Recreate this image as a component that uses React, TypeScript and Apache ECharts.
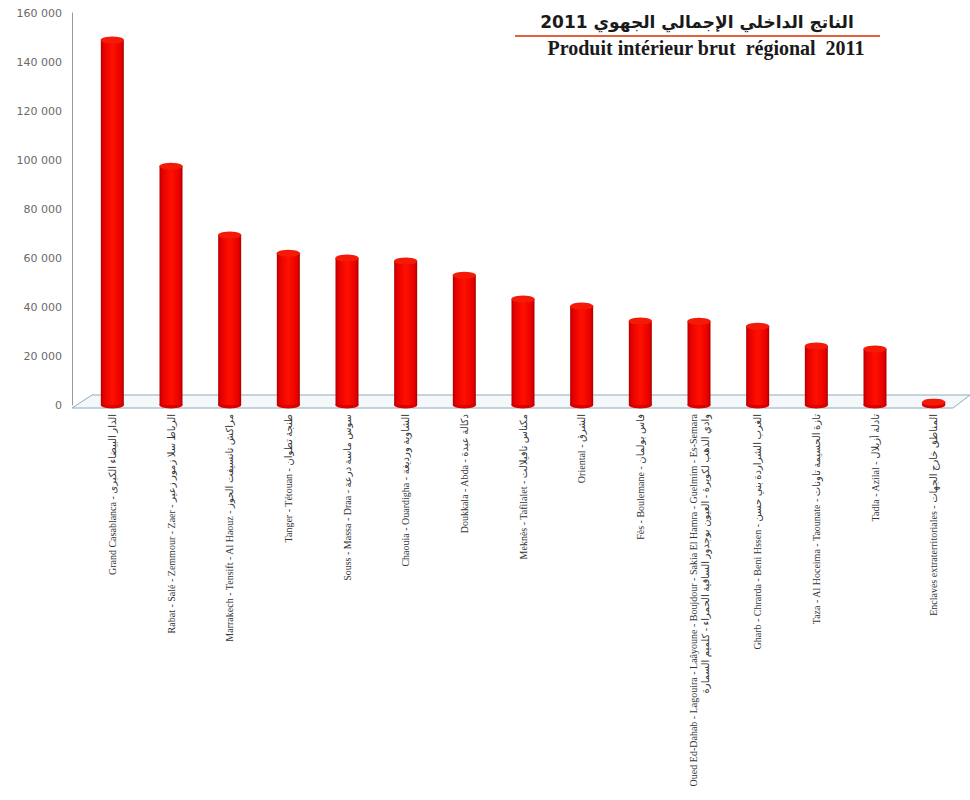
import React, { useEffect, useRef } from "react";
import * as echarts from "echarts";

// ---- Data ----
const categories: string[] = [
  "Grand Casablanca - الدار البيضاء الكبرى",
  "Rabat - Salé - Zemmour - Zaer - الرباط سلا زمور زعير",
  "Marrakech - Tensift - Al Haouz - مراكش تانسيفت الحوز",
  "Tanger - Tétouan - طنجة تطوان",
  "Souss - Massa - Draa - سوس ماسة درعة",
  "Chaouia - Ouardigha - الشاوية ورديغة",
  "Doukkala - Abda - دكالة عبدة",
  "Meknès - Tafilalet - مكناس تافيلالت",
  "Oriental - الشرق",
  "Fès - Boulemane - فاس بولمان",
  "Oued Ed-Dahab - Lagouira - Laâyoune - Boujdour - Sakia El Hamra - Guelmim - Es-Semara\nوادي الذهب لكويرة - العيون بوجدور الساقية الحمراء - كلميم السمارة",
  "Gharb - Chrarda - Beni Hssen - الغرب الشراردة بني حسن",
  "Taza - Al Hoceima - Taounate - تازة الحسيمة تاونات",
  "Tadla - Azilal - تادلة أزيلال",
  "Enclaves extraterritoriales - المناطق خارج الجهات",
];

const gdpValues: number[] = [
  149000, 97500, 69400, 62000, 60000, 58800, 53000, 43300, 40400, 34300,
  34200, 32200, 24100, 22900, 1200,
];

const yMin = 0;
const yMax = 160000;
const yInterval = 20000;

const titleArabic = "الناتج الداخلي الإجمالي الجهوي 2011";
const titleFrench = "Produit intérieur brut  régional  2011";

export default function App() {
  const ref = useRef<HTMLDivElement>(null);

  useEffect(() => {
    if (!ref.current) return;
    const chart = echarts.init(ref.current, undefined, { renderer: "svg" });

    const barW = 23;
    const capH = 7;

    const bodyGradient = new echarts.graphic.LinearGradient(0, 0, 1, 0, [
      { offset: 0, color: "#b00000" },
      { offset: 0.12, color: "#e40000" },
      { offset: 0.5, color: "#ff1000" },
      { offset: 0.88, color: "#e80000" },
      { offset: 1, color: "#a80000" },
    ]);

    const option: any = {
      animation: false,
      backgroundColor: "#ffffff",
      grid: { left: 83, right: 7, top: 13, bottom: 395, containLabel: false },
      xAxis: {
        type: "category",
        data: categories,
        axisLine: { show: false },
        axisTick: { show: false },
        axisLabel: {
          interval: 0,
          rotate: 90,
          margin: 9,
          fontSize: 10,
          lineHeight: 12,
          color: "#333",
          fontFamily: "Liberation Serif, DejaVu Sans, serif",
        },
      },
      yAxis: {
        type: "value",
        min: yMin,
        max: yMax,
        interval: yInterval,
        offset: 11,
        axisLine: { show: true, lineStyle: { color: "#9a9a9a", width: 1 } },
        axisTick: { show: false },
        splitLine: { show: false },
        axisLabel: {
          margin: 10,
          fontSize: 11,
          color: "#6a6a6a",
          fontFamily: "DejaVu Sans, sans-serif",
          formatter: (v: number) =>
            v === 0 ? "0" : `${Math.round(v / 1000)} 000`,
        },
      },
      series: [
        {
          type: "bar",
          data: gdpValues,
          barWidth: barW,
          z: 3,
          itemStyle: { color: bodyGradient },
        },
        {
          type: "pictorialBar",
          data: gdpValues,
          symbol: "circle",
          symbolSize: [barW, capH],
          symbolPosition: "start",
          symbolOffset: [0, "50%"],
          z: 2,
          itemStyle: { color: "#d80000" },
        },
        {
          type: "pictorialBar",
          data: gdpValues,
          symbol: "circle",
          symbolSize: [barW, capH],
          symbolPosition: "end",
          symbolOffset: [0, "-50%"],
          z: 4,
          itemStyle: { color: "#f51a08", borderColor: "#9a0000", borderWidth: 0.6 },
        },
      ],
      graphic: [
        {
          id: "titleAr",
          type: "text",
          x: 697,
          y: 22,
          style: {
            text: titleArabic,
            fill: "#1a1a1a",
            font: "bold 17px 'DejaVu Sans', sans-serif",
            align: "center",
            verticalAlign: "middle",
          },
        },
        {
          id: "titleLine",
          type: "line",
          shape: { x1: 515, y1: 36, x2: 880, y2: 36 },
          style: { stroke: "#e2623c", lineWidth: 2 },
        },
        {
          id: "titleFr",
          type: "text",
          x: 706,
          y: 48,
          style: {
            text: titleFrench,
            fill: "#1a1a1a",
            font: "bold 20px 'Liberation Serif', serif",
            align: "center",
            verticalAlign: "middle",
          },
        },
      ],
    };

    chart.setOption(option);

    // Floor (3D base) computed from the chart's own scales
    const n = categories.length;
    const p0 = chart.convertToPixel({ gridIndex: 0 }, [0, 0]) as number[];
    const p1 = chart.convertToPixel({ gridIndex: 0 }, [1, 0]) as number[];
    const pn = chart.convertToPixel({ gridIndex: 0 }, [n - 1, 0]) as number[];
    const band = p1[0] - p0[0];
    const gl = p0[0] - band / 2;
    const gr = pn[0] + band / 2;
    const y0 = p0[1];
    const frontY = y0 + 3;
    const backY = y0 - 10;
    chart.setOption({
      graphic: [
        {
          id: "floor",
          type: "polygon",
          z: -10,
          shape: {
            points: [
              [gl - 11, frontY],
              [gr - 10, frontY],
              [gr + 7, backY],
              [gl + 9, backY],
            ],
          },
          style: { fill: "#f5f8fa", stroke: "#8faabb", lineWidth: 1 },
        },
      ],
    });

    return () => chart.dispose();
  }, []);

  return (
    <div
      ref={ref}
      style={{
        position: "absolute",
        left: 0,
        top: 0,
        width: 970,
        height: 800,
        background: "#fff",
      }}
    />
  );
}
